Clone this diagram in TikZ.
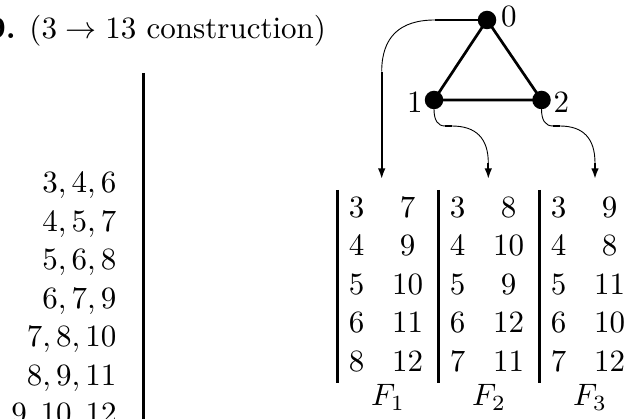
\documentclass[tikz,border=0pt]{standalone}
\usetikzlibrary{arrows.meta}
\begin{document}
\begin{tikzpicture}[x=1pt,y=-1pt,
  every node/.style={inner sep=0pt, outer sep=0pt},
  big/.style={font=\fontsize{10}{12}\selectfont, scale=3.1},
  txt/.style={big, anchor=base east},
  cell/.style={big, anchor=base},
  lbl/.style={big, anchor=base west},
  vtx/.style={circle, fill=black, minimum size=18.5pt, inner sep=0pt},
  edgeline/.style={line width=2.7pt},
  rulebar/.style={line width=3pt},
  thinline/.style={line width=0.9pt},
  stem/.style={line width=1.9pt},
  tipline/.style={line width=1.9pt, -{Latex[length=10.5pt,width=7.5pt]}}
]
\useasboundingbox (0,0) rectangle (637,419);
\clip (0,0) rectangle (637,419);

% title
\node[txt] (title) at (326,38.3) {\textbf{9.} ($3\to13$ construction)};

% left column
\draw[rulebar] (143.3,73) -- (143.3,440);
\node[txt] (l1) at (116.5,193) {$3,4,6$};
\node[txt] (l2) at (116.5,231.5) {$4,5,7$};
\node[txt] (l3) at (116.5,270) {$5,6,8$};
\node[txt] (l4) at (116.5,308.5) {$6,7,9$};
\node[txt] (l5) at (116.5,346.8) {$7,8,10$};
\node[txt] (l6) at (116.5,385.2) {$8,9,11$};
\node[txt] (l7) at (116.5,423.5) {$9,10,12$};

% table
\draw[rulebar] (337,190) -- (337,383.3);
\draw[rulebar] (438,190) -- (438,383.3);
\draw[rulebar] (539,190) -- (539,383.3);
\foreach \r/\y/\p/\q in {1/217.5/3/7, 2/256/4/9, 3/294.5/5/10, 4/333/6/11, 5/371.5/8/12}{
  \node[cell] (fa\r) at (356.5,\y) {$\p$};
  \node[cell] (fb\r) at (407.5,\y) {$\q$};
}
\foreach \r/\y/\p/\q in {1/217.5/3/8, 2/256/4/10, 3/294.5/5/9, 4/333/6/12, 5/371.5/7/11}{
  \node[cell] (ga\r) at (457.5,\y) {$\p$};
  \node[cell] (gb\r) at (508.5,\y) {$\q$};
}
\foreach \r/\y/\p/\q in {1/217.5/3/9, 2/256/4/8, 3/294.5/5/11, 4/333/6/10, 5/371.5/7/12}{
  \node[cell] (ha\r) at (558.5,\y) {$\p$};
  \node[cell] (hb\r) at (609.5,\y) {$\q$};
}
\node[cell] (F1) at (388,406) {$F_1$};
\node[cell] (F2) at (489,406) {$F_2$};
\node[cell] (F3) at (590,406) {$F_3$};

% graph
\node[vtx] (v0) at (487,20) {};
\node[vtx] (v1) at (434,100) {};
\node[vtx] (v2) at (541.5,100) {};
\node[lbl] (n0) at (501,26.5) {0};
\node[lbl] (n1) at (407,113) {1};
\node[lbl] (n2) at (553.5,113) {2};
\draw[edgeline] (v0.center) -- (v1.center) -- (v2.center) -- cycle;

% arrow from 0
\coordinate (a1) at (435,20);
\coordinate (a2) at (381.7,71.7);
\coordinate (a3) at (381.7,179);
\draw[stem] (v0.center) -- (a1);
\draw[thinline] (a1) .. controls (399.5,20) and (381.7,37.2) .. (a2);
\draw[tipline] (a2) -- (a3);

% arrow from 1
\coordinate (b0) at (434,109);
\coordinate (b1) at (445,126);
\coordinate (b2) at (451.7,126);
\coordinate (b3) at (488.3,163);
\coordinate (b4) at (488.3,179);
\draw[thinline] (b0) .. controls (434,120.3) and (437.7,126) .. (b1);
\draw[stem] (b1) -- (b2);
\draw[thinline] (b2) .. controls (476.1,126) and (488.3,138.3) .. (b3);
\draw[tipline] (b3) -- (b4);

% arrow from 2
\coordinate (c0) at (541.5,109);
\coordinate (c1) at (553,126);
\coordinate (c2) at (559.7,126);
\coordinate (c3) at (595,163);
\coordinate (c4) at (595,179);
\draw[thinline] (c0) .. controls (541.5,120.3) and (545.3,126) .. (c1);
\draw[stem] (c1) -- (c2);
\draw[thinline] (c2) .. controls (583.2,126) and (595,138.3) .. (c3);
\draw[tipline] (c3) -- (c4);
\end{tikzpicture}
\end{document}
